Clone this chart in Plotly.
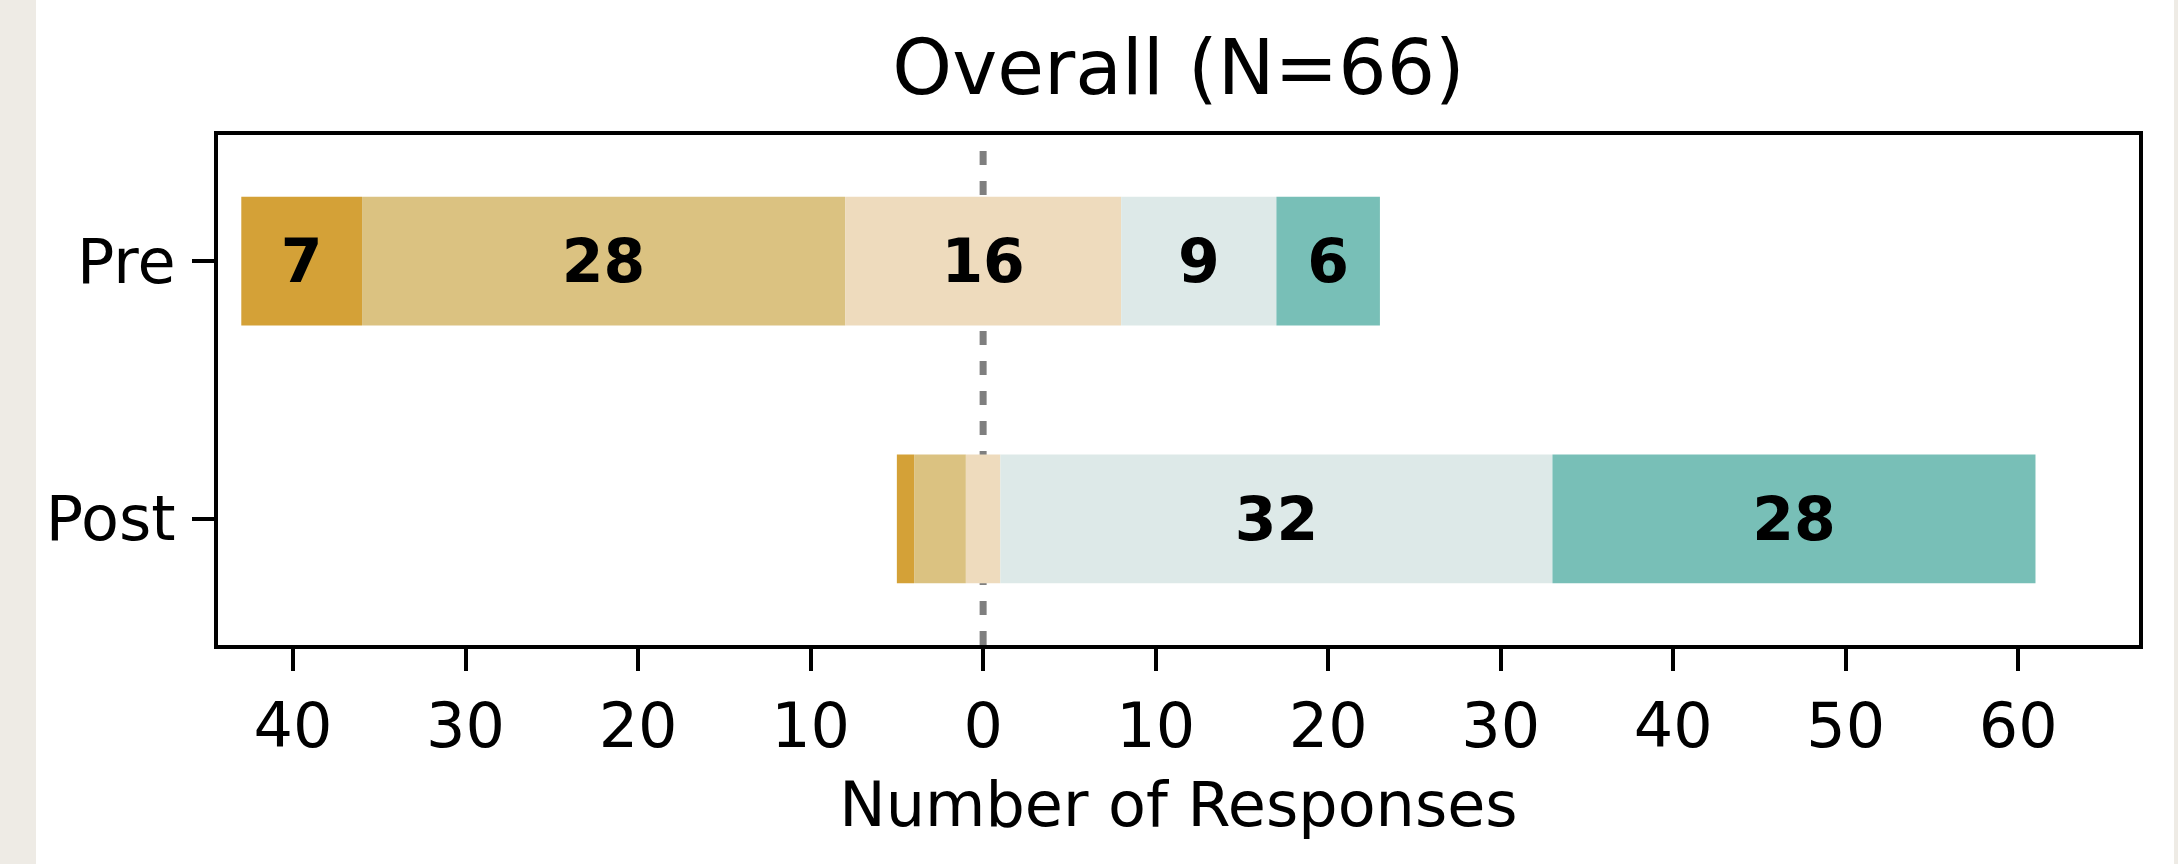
import plotly.graph_objects as go

# Survey responses per Likert level, Pre and Post
groups = ["Pre", "Post"]
levels = ["Strongly Disagree", "Disagree", "Neutral", "Agree", "Strongly Agree"]
counts = {
    "Pre":  [7, 28, 16, 9, 6],
    "Post": [1, 3, 2, 32, 28],
}
level_colors = ["#D4A137", "#DBC281", "#EEDBBD", "#DDE9E8", "#78BFB7"]

title_text = "Overall (N=66)"
x_title = "Number of Responses"
tick_vals = [-40, -30, -20, -10, 0, 10, 20, 30, 40, 50, 60]
tick_text = ["40", "30", "20", "10", "0", "10", "20", "30", "40", "50", "60"]
min_labeled = 5

FONT = "DejaVu Sans"
W, H = 2178, 864
L, R, T, B = 218, 39, 135, 219

# Diverging layout: neutral segment centred on zero
bases = {}
for g in groups:
    c = counts[g]
    start = -(c[0] + c[1] + c[2] / 2.0)
    b = []
    for v in c:
        b.append(start)
        start += v
    bases[g] = b

fig = go.Figure()
for i, lev in enumerate(levels):
    xs = [counts[g][i] for g in groups]
    bs = [bases[g][i] for g in groups]
    txt = [str(v) if v >= min_labeled else "" for v in xs]
    fig.add_trace(go.Bar(
        name=lev,
        y=groups,
        x=xs,
        base=bs,
        orientation="h",
        width=0.5,
        marker=dict(color=level_colors[i], line=dict(width=0)),
        text=txt,
        textposition="inside",
        insidetextanchor="middle",
        textangle=0,
        constraintext="none",
        textfont=dict(family=FONT, size=60, color="#000000", weight="bold"),
        showlegend=False,
        hoverinfo="skip",
    ))

# zero reference line behind the bars
fig.add_shape(type="line", xref="x", yref="paper", x0=0, x1=0, y0=0, y1=1,
              line=dict(color="#7F7F7F", width=7, dash="14px,16px"), layer="below")

# textured side margins of the page
pw = W - L - R
ph = H - T - B
def px_x(p):
    return (p - L) / pw
def px_y(p):
    return (H - B - p) / ph
for x0, x1 in [(0, 36), (2174, W + 2)]:
    fig.add_shape(type="rect", xref="paper", yref="paper",
                  x0=px_x(x0), x1=px_x(x1), y0=px_y(H + 2), y1=px_y(-2),
                  fillcolor="#EEEBE5", line=dict(width=0), layer="below")

axis_common = dict(
    showline=True, linecolor="#000000", linewidth=4, mirror=True,
    ticks="outside", ticklen=22, tickwidth=4, tickcolor="#000000",
    showgrid=False, zeroline=False,
    tickfont=dict(family=FONT, size=62, color="#000000"),
)

fig.update_layout(
    width=W, height=H,
    margin=dict(l=L, r=R, t=T, b=B, pad=0),
    paper_bgcolor="#FFFFFF", plot_bgcolor="#FFFFFF",
    barmode="overlay",
    title=dict(text=title_text, x=(L + pw / 2) / W, xanchor="center",
               y=1 - 67 / H, yanchor="middle", yref="container",
               font=dict(family=FONT, size=76, color="#000000")),
    xaxis=dict(range=[-44.35, 67.0], tickvals=tick_vals, ticktext=tick_text,
               ticklabelstandoff=2,
               title=dict(text=x_title, standoff=22,
                          font=dict(family=FONT, size=62, color="#000000")),
               **axis_common),
    yaxis=dict(range=[1.49, -0.49], type="category", categoryorder="array",
               categoryarray=groups, ticklabelstandoff=4, **axis_common),
    font=dict(family=FONT),
)

fig.write_html("out.html")
